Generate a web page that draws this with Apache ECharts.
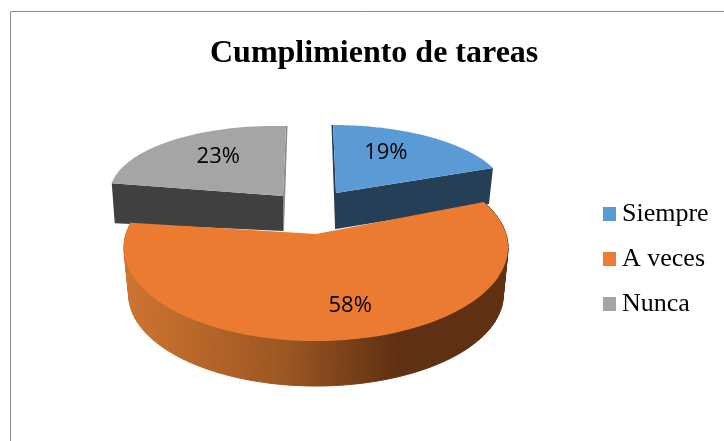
<!DOCTYPE html>
<html><head><meta charset="utf-8">
<style>html,body{margin:0;padding:0;background:#fff}#c{width:724px;height:441px}</style>
<script src="https://cdn.jsdelivr.net/npm/echarts@6/dist/echarts.min.js"></script>
</head><body><div id="c"></div>
<script>
const categories = ['Siempre', 'A veces', 'Nunca'];
const shares = [19, 58, 23];
const topColors = ['#5b9bd5', '#ea7b30', '#a5a5a5'];
const wallColors = ['#243f56', '#5f3012', '#404040'];

// projection of each exploded slice (layout only)
const views = [
  {ax:336, ay:193, Ax:170, Ay:0, Bx:-3, By:-68, k:0, d1:[0,36], d2:[-4,36], lf:[.54,.71]},
  {ax:316, ay:234, Ax:190, Ay:0, Bx:0, By:-91.5, k:.145, lf:[1.29,.71]},
  {ax:283, ay:196, Ax:173, Ay:4, Bx:3, By:-70, k:0, d1:[0,35], d2:[3,40], lf:[.58,.71]}
];
const total = shares.reduce((a, b) => a + b, 0);
const starts = shares.map((_, i) => shares.slice(0, i).reduce((a, b) => a + b, 0));

function proj(v, th, f) {
  f = f === undefined ? 1 : f;
  const u = Math.sin(th) * f, w = Math.cos(th) * f, d = 1 + v.k * w;
  return [v.ax + (v.Ax * u + v.Bx * w) / d, v.ay + (v.Ay * u + v.By * w) / d];
}
function arc(v, a, b) {
  const pts = [];
  for (let i = 0; i <= 90; i++) pts.push(proj(v, a + (b - a) * i / 90));
  return pts;
}
const orangeWall = {type:'linear', x:125, y:0, x2:505, y2:0, global:true, colorStops:[
  {offset:0, color:'#cf7430'}, {offset:.43, color:'#9a5621'},
  {offset:.716, color:'#5f3012'}, {offset:1, color:'#5f3012'}]};

function render(i) {
  return function (params, api) {
    const val = api.value(0), v = views[i];
    const a = starts[i] / total * 2 * Math.PI, b = a + val / total * 2 * Math.PI;
    const top = arc(v, a, b), apex = [v.ax, v.ay];
    const children = [];
    if (i === 1) {
      const s = .975, dz = 47.7;
      const low = top.map(p => [v.ax + (p[0] - v.ax) * s, v.ay + (p[1] - v.ay) * s + dz]);
      for (let n = 0; n < top.length - 1; n++) {
        children.push({type:'polygon', shape:{points:[top[n], top[n + 1], low[n + 1], low[n]]},
          style:{fill:orangeWall, stroke:orangeWall, lineWidth:1}});
      }
    } else {
      const e = i === 0 ? top[top.length - 1] : top[0];
      const o = i === 0 ? top[0] : top[top.length - 1];
      children.push({type:'polygon', shape:{points:[
        apex, e, [e[0] + v.d2[0], e[1] + v.d2[1]], [apex[0] + v.d1[0], apex[1] + v.d1[1]]]},
        style:{fill:wallColors[i]}});
      const side = i === 0 ? -1.5 : 1.5;
      children.push({type:'polygon', shape:{points:[
        o, apex, [apex[0], apex[1] + v.d1[1]], [apex[0] + side * .6, apex[1] + v.d1[1]], [o[0] + side, o[1]]]},
        style:{fill: i === 0 ? wallColors[0] : '#8a8a8a'}});
    }
    children.push({type:'polygon', shape:{points:[apex].concat(top)}, style:{fill:topColors[i]}});
    const mid = (a + b) / 2;
    const d = 1 + v.k * Math.cos(mid) * v.lf[1];
    children.push({type:'text', style:{
      text: Math.round(val / total * 100) + '%',
      x: v.ax + (v.Ax * Math.sin(mid) * v.lf[0] + v.Bx * Math.cos(mid) * v.lf[1]) / d,
      y: v.ay + (v.Ay * Math.sin(mid) * v.lf[0] + v.By * Math.cos(mid) * v.lf[1]) / d,
      align:'center', verticalAlign:'middle', fill:'#000',
      font:'22px "Open Sans", sans-serif'}});
    return {type:'group', children};
  };
}

const chart = echarts.init(document.getElementById('c'), null, {renderer:'canvas'});
chart.setOption({
  animation:false,
  backgroundColor:'#fff',
  title:{text:'Cumplimiento de tareas', left:205, top:33,
    textStyle:{fontFamily:'"Liberation Serif"', fontWeight:'bold', fontSize:32, color:'#000'}},
  legend:{orient:'vertical', left:598, top:196, itemWidth:13, itemHeight:14, itemGap:19, icon:'rect',
    data:categories, selectedMode:false,
    textStyle:{fontFamily:'"Liberation Serif"', fontSize:26, color:'#000', padding:[0,0,0,1]}},
  graphic:[{type:'rect', silent:true, z:-1, shape:{x:10.5, y:11.5, width:900, height:600},
    style:{fill:'none', stroke:'#8c8c8c', lineWidth:1}}],
  series: categories.map((name, i) => ({
    type:'custom', name, coordinateSystem:'none', z: i === 1 ? 3 : 2,
    itemStyle:{color:[ '#5b9bd5', '#ed7d31', '#a5a5a5'][i]},
    renderItem: render(i), data:[[shares[i]]]
  }))
});
</script></body></html>
